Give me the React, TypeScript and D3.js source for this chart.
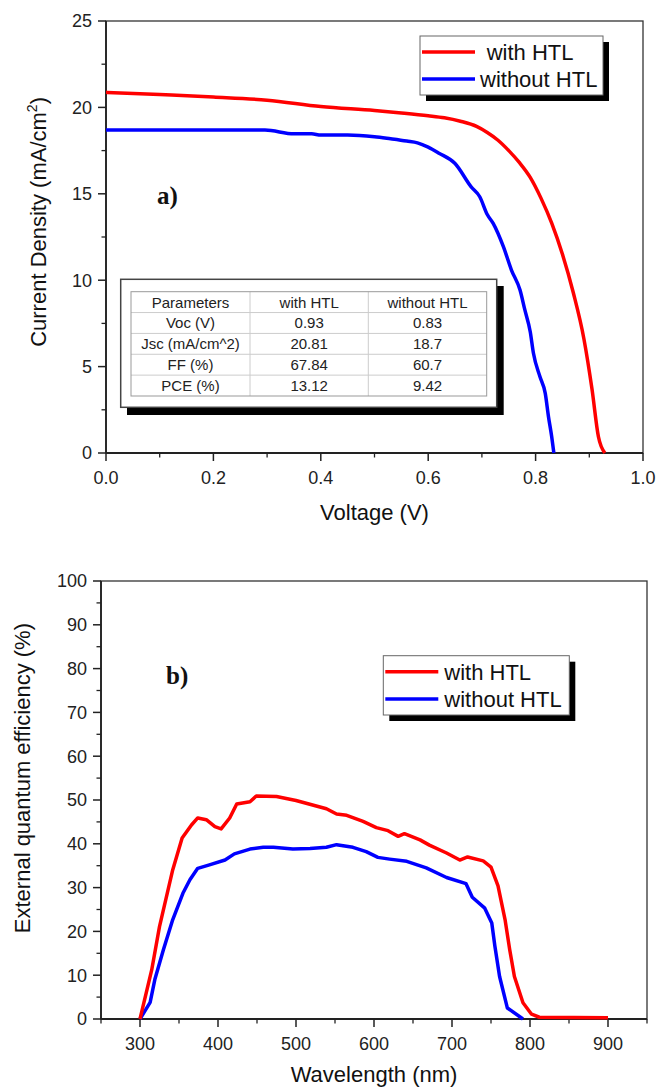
import React from "react";
import * as d3 from "d3";

// ---------- Data ----------
const voltageWith = [0, 0.1, 0.2, 0.3, 0.4, 0.5, 0.55, 0.6, 0.63, 0.66, 0.69, 0.71, 0.73, 0.75, 0.77, 0.79, 0.81, 0.83, 0.85, 0.87, 0.89, 0.905, 0.917, 0.929];
const currentWith = [20.87, 20.74, 20.6, 20.42, 20.05, 19.82, 19.68, 19.52, 19.4, 19.2, 18.9, 18.55, 18.1, 17.5, 16.8, 15.95, 14.75, 13.3, 11.5, 9.3, 6.6, 3.7, 0.94, 0];

const voltageWithout = [0, 0.1, 0.2, 0.296, 0.35, 0.383, 0.4, 0.45, 0.5, 0.53, 0.56, 0.58, 0.6, 0.62, 0.65, 0.68, 0.696, 0.71, 0.721, 0.74, 0.755, 0.771, 0.78, 0.79, 0.796, 0.808, 0.818, 0.824, 0.83, 0.834];
const currentWithout = [18.69, 18.69, 18.69, 18.69, 18.47, 18.47, 18.4, 18.4, 18.3, 18.18, 18.05, 17.95, 17.7, 17.35, 16.75, 15.4, 14.83, 13.8, 13.29, 11.94, 10.59, 9.43, 8.28, 7.02, 5.77, 4.42, 3.45, 2.1, 0.94, 0];

const wavelengthWith = [300, 315, 325, 342, 354, 366, 374, 385, 396, 404, 415, 424, 441, 449, 475, 500, 539, 552, 565, 586, 603, 618, 631, 639, 659, 671, 693, 710, 720, 740, 750, 759, 768, 774, 780, 791, 802, 812, 900];
const eqeWith = [0, 11.2, 21.1, 34.1, 41.3, 44.3, 45.9, 45.5, 43.9, 43.4, 45.9, 49.1, 49.6, 50.9, 50.8, 49.9, 48.0, 46.8, 46.5, 45.1, 43.7, 43.0, 41.7, 42.3, 40.9, 39.7, 37.9, 36.3, 37.0, 36.1, 34.7, 30.4, 22.7, 15.8, 9.7, 3.7, 1.1, 0.4, 0.3];

const wavelengthWithout = [300, 313, 319, 330, 342, 355, 364, 374, 389, 409, 421, 441, 458, 471, 496, 518, 539, 552, 573, 590, 605, 620, 642, 667, 693, 718, 726, 742, 751, 755, 761, 771, 791];
const eqeWithout = [0, 3.8, 9.0, 15.8, 22.7, 28.7, 31.8, 34.4, 35.2, 36.3, 37.7, 38.8, 39.2, 39.2, 38.8, 38.9, 39.2, 39.8, 39.2, 38.2, 36.9, 36.5, 36.0, 34.5, 32.3, 30.9, 27.8, 25.3, 21.9, 16.6, 9.7, 2.5, 0];

const seriesNames = ["with HTL", "without HTL"];
const seriesColors = ["#ff0000", "#0000ff"];

const tableHeader = ["Parameters", "with HTL", "without HTL"];
const tableParams = ["Voc (V)", "Jsc (mA/cm^2)", "FF (%)", "PCE (%)"];
const tableWith = ["0.93", "20.81", "67.84", "13.12"];
const tableWithout = ["0.83", "18.7", "60.7", "9.42"];

const jvXTicks = [0, 0.2, 0.4, 0.6, 0.8, 1.0];
const jvYTicks = [0, 5, 10, 15, 20, 25];
const eqeXTicks = [300, 400, 500, 600, 700, 800, 900];
const eqeYTicks = [0, 10, 20, 30, 40, 50, 60, 70, 80, 90, 100];

// ---------- Layout ----------
const W = 656;
const H = 1089;
const SANS = "'Liberation Sans', Arial, sans-serif";
const SERIF = "'Liberation Serif', 'Times New Roman', serif";
const AX = "#222";

const xJV = d3.scaleLinear().domain([0, 1]).range([106, 643]);
const yJV = d3.scaleLinear().domain([0, 25]).range([453, 21]);
const xEQE = d3.scaleLinear().domain([250, 950]).range([101, 647]);
const yEQE = d3.scaleLinear().domain([0, 100]).range([1019, 581]);

type Scale = d3.ScaleLinear<number, number>;

function Frame({ x, y, majorX, minorX, majorY, minorY, fmtX, fmtY }: {
  x: Scale; y: Scale; majorX: number[]; minorX: number[]; majorY: number[]; minorY: number[];
  fmtX: (v: number) => string; fmtY: (v: number) => string;
}) {
  const [x0, x1] = x.range();
  const [y1, y0] = y.range();
  return (
    <g>
      <rect x={x0} y={y0} width={x1 - x0} height={y1 - y0} fill="none" stroke="#333" strokeWidth={1.3} />
      <line x1={x0} x2={x1} y1={y1} y2={y1} stroke={AX} strokeWidth={1.8} />
      <line x1={x0} x2={x0} y1={y0} y2={y1} stroke={AX} strokeWidth={1.8} />
      {minorX.map((v) => (
        <line key={"mx" + v} x1={x(v)} x2={x(v)} y1={y1} y2={y1 + 4.5} stroke={AX} strokeWidth={1.3} />
      ))}
      {majorX.map((v) => (
        <g key={"Mx" + v}>
          <line x1={x(v)} x2={x(v)} y1={y1} y2={y1 + 8} stroke={AX} strokeWidth={1.5} />
          <text x={x(v)} y={y1 + 31} textAnchor="middle" fontFamily={SANS} fontSize={18} fill={AX}>{fmtX(v)}</text>
        </g>
      ))}
      {minorY.map((v) => (
        <line key={"my" + v} x1={x0 - 4.5} x2={x0} y1={y(v)} y2={y(v)} stroke={AX} strokeWidth={1.3} />
      ))}
      {majorY.map((v) => (
        <g key={"My" + v}>
          <line x1={x0 - 8} x2={x0} y1={y(v)} y2={y(v)} stroke={AX} strokeWidth={1.5} />
          <text x={x0 - 14} y={y(v)} dy="0.36em" textAnchor="end" fontFamily={SANS} fontSize={18} fill={AX}>{fmtY(v)}</text>
        </g>
      ))}
    </g>
  );
}

function Legend({ x, y, w, h, textX }: { x: number; y: number; w: number; h: number; textX: number[] }) {
  const rowY = [y + h * 0.27, y + h * 0.73];
  return (
    <g>
      <rect x={x + 6} y={y + 6} width={w} height={h} fill="#000" />
      <rect x={x} y={y} width={w} height={h} fill="#fff" stroke="#666" strokeWidth={1} />
      {seriesNames.map((n, i) => (
        <g key={n}>
          <line x1={x + 2} x2={x + 55} y1={rowY[i]} y2={rowY[i]} stroke={seriesColors[i]} strokeWidth={3.5} />
          <text x={textX[i]} y={rowY[i]} dy="0.36em" fontFamily={SANS} fontSize={22} fill="#111">{n}</text>
        </g>
      ))}
    </g>
  );
}

export default function App() {
  const jvLine = d3.line<[number, number]>().x((d) => xJV(d[0])).y((d) => yJV(d[1])).curve(d3.curveMonotoneX);
  const redJV = jvLine(voltageWith.map((v, i) => [v, currentWith[i]] as [number, number]));
  const blueJV = jvLine(voltageWithout.map((v, i) => [v, currentWithout[i]] as [number, number]));
  const eqeLine = d3.line<[number, number]>().x((d) => xEQE(d[0])).y((d) => yEQE(d[1]));
  const redEQE = eqeLine(wavelengthWith.map((v, i) => [v, eqeWith[i]] as [number, number]));
  const blueEQE = eqeLine(wavelengthWithout.map((v, i) => [v, eqeWithout[i]] as [number, number]));

  const jvMinorX = d3.range(0, 11).map((i) => i / 10).filter((v) => !jvXTicks.some((t) => Math.abs(t - v) < 1e-9));
  const jvMinorY = d3.range(0, 11).map((i) => i * 2.5).filter((v) => v % 5 !== 0);
  const eqeMinorX = d3.range(250, 951, 50).filter((v) => v % 100 !== 0);
  const eqeMinorY = d3.range(5, 100, 10);

  // table geometry
  const tX0 = 131, tX1 = 486.7, tY0 = 291.7, rowH = 20.86;
  const colX = [tX0, 250, 368.3, tX1];
  const rows: string[][] = [tableHeader, ...tableParams.map((p, i) => [p, tableWith[i], tableWithout[i]])];

  return (
    <svg width={W} height={H} style={{ position: "absolute", left: 0, top: 0, background: "#fff" }}>
      {/* ---------- Chart a) ---------- */}
      <Frame x={xJV} y={yJV} majorX={jvXTicks} minorX={jvMinorX} majorY={jvYTicks} minorY={jvMinorY}
        fmtX={d3.format(".1f")} fmtY={d3.format("d")} />
      <path d={blueJV || ""} fill="none" stroke={seriesColors[1]} strokeWidth={3.5} strokeLinejoin="round" />
      <path d={redJV || ""} fill="none" stroke={seriesColors[0]} strokeWidth={3.5} strokeLinejoin="round" />
      <text x={374.5} y={520} textAnchor="middle" fontFamily={SANS} fontSize={22} fill="#111">Voltage (V)</text>
      <text transform="translate(46,97) rotate(-90)" textAnchor="end" fontFamily={SANS} fontSize={22} fill="#111">
        Current Density (mA/cm<tspan fontSize={14} dy={-9}>2</tspan><tspan dy={9}>)</tspan>
      </text>
      <text x={157} y={204} fontFamily={SERIF} fontWeight="bold" fontSize={25} fill="#111">a)</text>
      <Legend x={420} y={36} w={183} h={59} textX={[486.7, 480]} />

      {/* table */}
      <g>
        <rect x={127} y={286} width={376.7} height={129} fill="#000" />
        <rect x={120.7} y={279.3} width={376} height={128} fill="#fff" stroke="#444" strokeWidth={1.5} />
        {rows.map((r, ri) => (
          <g key={"r" + ri}>
            {r.map((c, ci) => (
              <text key={ci} x={(colX[ci] + colX[ci + 1]) / 2} y={tY0 + rowH * ri + rowH / 2} dy="0.36em"
                textAnchor="middle" fontFamily={SANS} fontSize={15} fill="#222">{c}</text>
            ))}
          </g>
        ))}
        {d3.range(1, rows.length).map((i) => (
          <line key={"h" + i} x1={tX0} x2={tX1} y1={tY0 + rowH * i} y2={tY0 + rowH * i} stroke="#ccc" strokeWidth={1} />
        ))}
        {colX.slice(1, 3).map((cx, i) => (
          <line key={"v" + i} x1={cx} x2={cx} y1={tY0} y2={tY0 + rowH * rows.length} stroke="#ccc" strokeWidth={1} />
        ))}
        <rect x={tX0} y={tY0} width={tX1 - tX0} height={rowH * rows.length} fill="none" stroke="#999" strokeWidth={1} />
      </g>

      {/* ---------- Chart b) ---------- */}
      <Frame x={xEQE} y={yEQE} majorX={eqeXTicks} minorX={eqeMinorX} majorY={eqeYTicks} minorY={eqeMinorY}
        fmtX={d3.format("d")} fmtY={d3.format("d")} />
      <path d={blueEQE || ""} fill="none" stroke={seriesColors[1]} strokeWidth={3.5} strokeLinejoin="round" />
      <path d={redEQE || ""} fill="none" stroke={seriesColors[0]} strokeWidth={3.5} strokeLinejoin="round" />
      <text x={374} y={1082} textAnchor="middle" fontFamily={SANS} fontSize={22} fill="#111">Wavelength (nm)</text>
      <text transform="translate(30,623) rotate(-90)" textAnchor="end" fontFamily={SANS} fontSize={22} fill="#111">
        External quantum efficiency (%)
      </text>
      <text x={166} y={684} fontFamily={SERIF} fontWeight="bold" fontSize={25} fill="#111">b)</text>
      <Legend x={383.3} y={655.7} w={186} h={59.3} textX={[444.3, 444.3]} />
    </svg>
  );
}
